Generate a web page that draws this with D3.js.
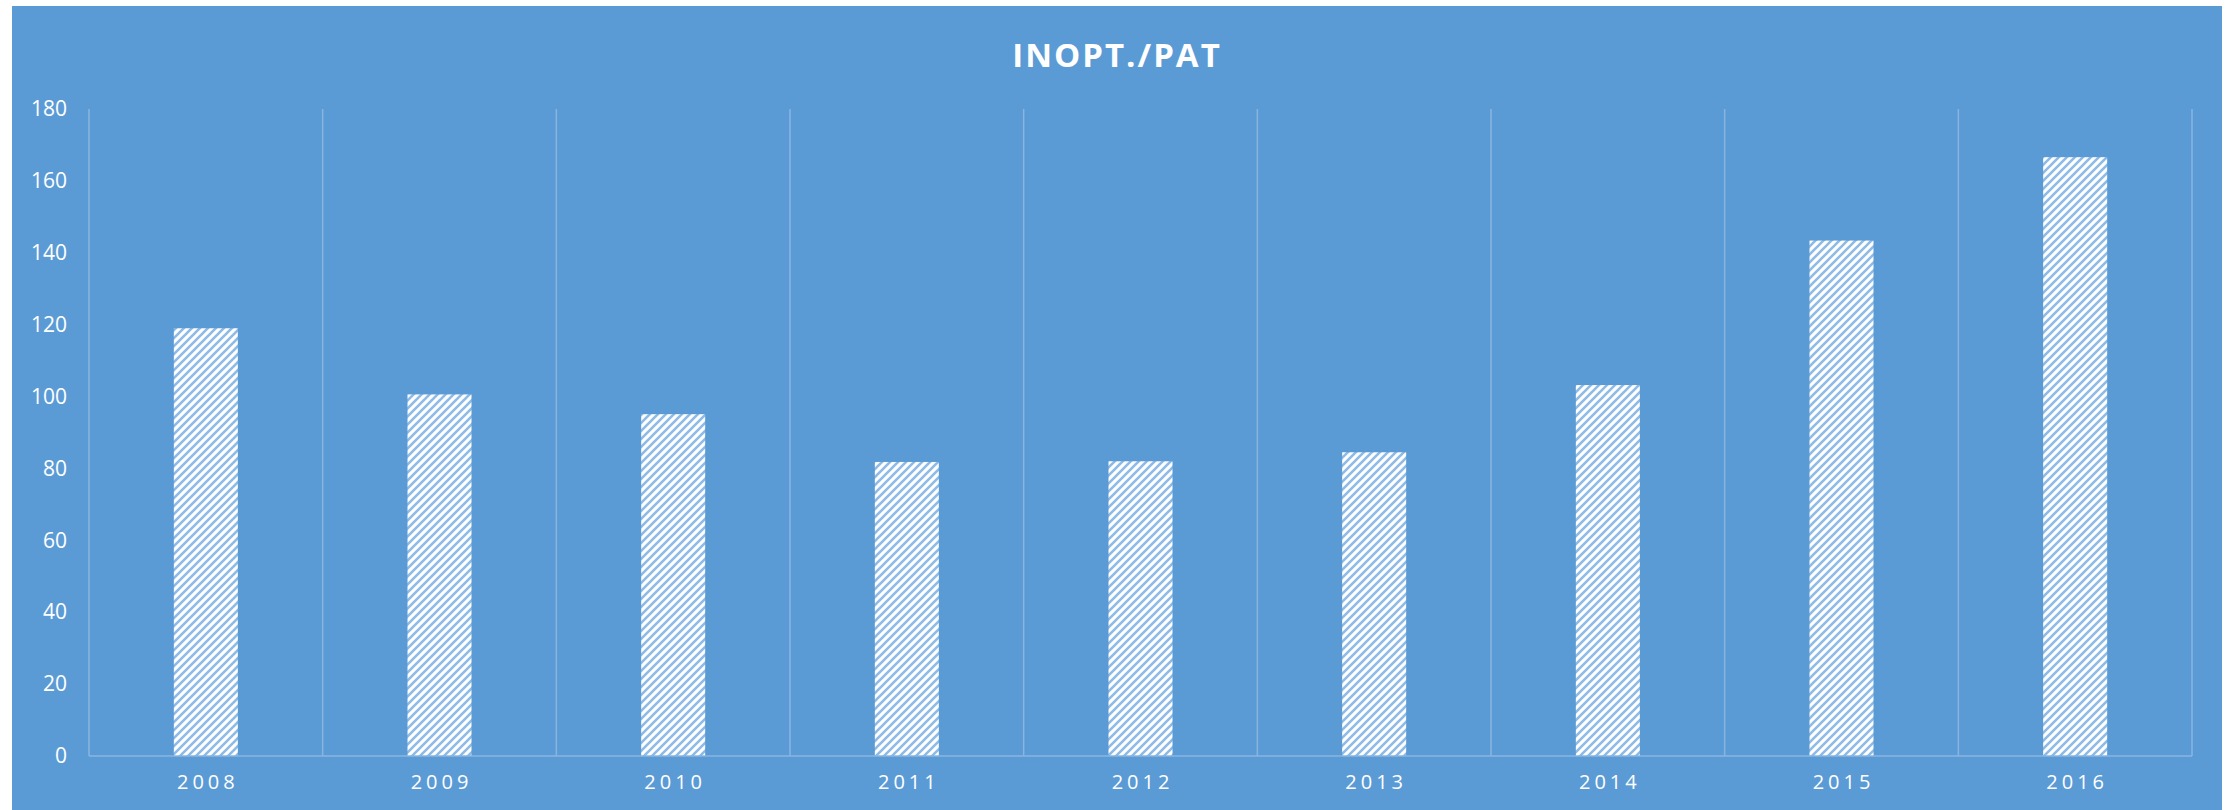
<!DOCTYPE html>
<html>
<head>
<meta charset="utf-8">
<script src="https://cdn.jsdelivr.net/npm/d3@7"></script>
<style>
  html, body { margin: 0; padding: 0; background: #fff; }
  svg { display: block; }
  text { font-family: "Open Sans", sans-serif; fill: #fff; }
</style>
</head>
<body>
<svg id="chart" width="2233" height="810"></svg>
<script>
var years = ["2008", "2009", "2010", "2011", "2012", "2013", "2014", "2015", "2016"];
var values = [119, 100.6, 95.1, 81.8, 82, 84.5, 103.2, 143.4, 166.6];
var yTicks = [0, 20, 40, 60, 80, 100, 120, 140, 160, 180];

var svg = d3.select("#chart"),
    bg = "#5b9bd5",
    gridColor = "#8ab4e0",
    margin = { left: 89, right: 2192, top: 109, bottom: 756 };

// chart area
svg.append("rect")
  .attr("x", 12).attr("y", 6)
  .attr("width", 2210).attr("height", 810)
  .attr("fill", bg);

// hatch pattern for bars
var defs = svg.append("defs");
var pat = defs.append("pattern")
  .attr("id", "hatch")
  .attr("patternUnits", "userSpaceOnUse")
  .attr("width", 8).attr("height", 8);
pat.append("rect").attr("width", 8).attr("height", 8).attr("fill", "#fff");
pat.append("path")
  .attr("d", "M-2,2 L2,-2 M0,8 L8,0 M6,10 L10,6")
  .attr("stroke", "#8ebbe6")
  .attr("stroke-width", 2.6);

var x = d3.scaleBand()
  .domain(years)
  .range([margin.left, margin.right]);

var y = d3.scaleLinear()
  .domain([0, 180])
  .range([margin.bottom, margin.top]);

// title
svg.append("text")
  .attr("x", 1117).attr("y", 67)
  .attr("text-anchor", "middle")
  .attr("font-size", 33)
  .attr("font-weight", "bold")
  .attr("letter-spacing", 2)
  .text("INOPT./PAT");

// vertical gridlines between categories
var bounds = years.map(function(d) { return x(d); }).concat([margin.right]);
svg.append("g")
  .selectAll("line")
  .data(bounds)
  .enter()
    .append("line")
    .attr("x1", function(d) { return d; })
    .attr("x2", function(d) { return d; })
    .attr("y1", margin.top)
    .attr("y2", margin.bottom)
    .attr("stroke", gridColor)
    .attr("stroke-width", 1.5);

// bars
var barW = 64;
svg.append("g")
  .selectAll("rect")
  .data(years)
  .enter()
    .append("rect")
    .attr("x", function(d) { return x(d) + x.bandwidth() / 2 - barW / 2; })
    .attr("y", function(d, i) { return y(values[i]); })
    .attr("width", barW)
    .attr("height", function(d, i) { return y(0) - y(values[i]); })
    .attr("fill", "url(#hatch)");

// baseline
svg.append("line")
  .attr("x1", margin.left).attr("x2", margin.right)
  .attr("y1", y(0)).attr("y2", y(0))
  .attr("stroke", gridColor)
  .attr("stroke-width", 1.5);

// y axis labels
var yAxis = d3.axisLeft(y).tickValues(yTicks).tickSize(0).tickPadding(0);
var gy = svg.append("g")
  .attr("transform", "translate(67,0)")
  .call(yAxis);
gy.select(".domain").remove();
gy.selectAll("text")
  .attr("font-size", 21)
  .attr("fill", "#fff")
  .style("font-family", "'Open Sans', sans-serif");

// x axis labels
var xAxis = d3.axisBottom(x).tickSize(0).tickPadding(0);
var gx = svg.append("g")
  .attr("transform", "translate(0," + (y(0) + 19) + ")")
  .call(xAxis);
gx.select(".domain").remove();
gx.selectAll("text")
  .attr("font-size", 20)
  .attr("fill", "#fff")
  .attr("letter-spacing", 4)
  .attr("dx", 2)
  .style("font-family", "'Open Sans', sans-serif");
</script>
</body>
</html>
